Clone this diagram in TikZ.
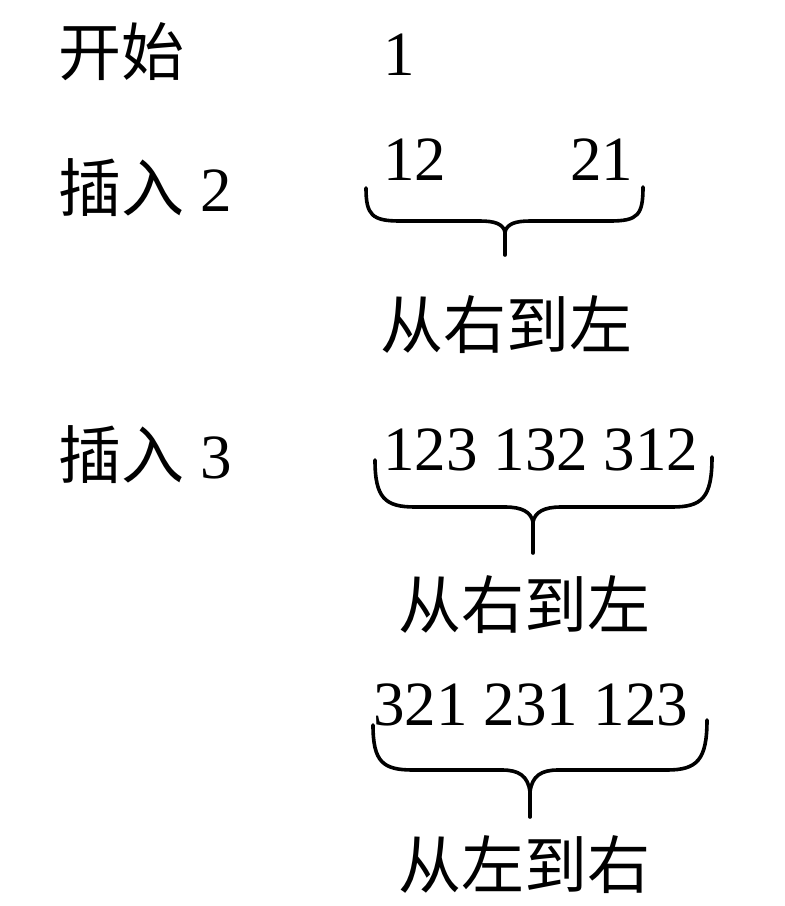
\documentclass[tikz,border=0pt]{standalone}
\usepackage{fontspec}
\setmainfont{Liberation Serif}
\newfontfamily\cjk{Noto Sans CJK SC}
\begin{document}
\begin{tikzpicture}[x=0.5pt,y=-0.5pt,
  txt/.style={anchor=west,inner sep=0pt,font=\fontsize{31.5}{36}\selectfont},
  bracepath/.style={line width=1.8pt,line cap=round,line join=round}]
\useasboundingbox (0,0) rectangle (784,906);
\node[txt] (start) at (58,52) {\cjk 开始};
\node[txt] (one) at (383,55) {1};
\node[txt] (ins2) at (58,188) {\cjk 插入\rmfamily\ 2};
\node[txt] (p12) at (383,160) {12};
\node[txt] (p21) at (570,160) {21};
\node[txt] (lab1) at (380,325) {\cjk 从右到左};
\node[txt] (ins3) at (58,455) {\cjk 插入\rmfamily\ 3};
\node[txt] (row3) at (383,450) {123 132 312};
\node[txt] (lab2) at (398,605) {\cjk 从右到左};
\node[txt] (row4) at (373,705) {321 231 123};
\node[txt] (lab3) at (398,865) {\cjk 从左到右};
% brace 1
\coordinate (b1l) at (366,188);
\coordinate (b1r) at (643,187);
\coordinate (b1m) at (505,232);
\coordinate (b1t) at (505,255);
\draw[bracepath] (b1l) .. controls (366,215) and (372,221) .. (400,221) -- (480,221) .. controls (495,221) and (503,224) .. (b1m) .. controls (507,224) and (515,221) .. (530,221) -- (610,221) .. controls (638,221) and (643,215) .. (b1r);
\draw[bracepath] (b1m) -- (b1t);
% brace 2
\coordinate (b2l) at (375,460);
\coordinate (b2r) at (712,457);
\coordinate (b2m) at (533,522);
\coordinate (b2t) at (533,553);
\draw[bracepath] (b2l) .. controls (375,498) and (385,507) .. (415,507) -- (505,507) .. controls (522,507) and (531,512) .. (b2m) .. controls (535,512) and (544,507) .. (561,507) -- (672,507) .. controls (702,507) and (712,498) .. (b2r);
\draw[bracepath] (b2m) -- (b2t);
% brace 3
\coordinate (b3l) at (373,725);
\coordinate (b3r) at (707,720);
\coordinate (b3m) at (530,792);
\coordinate (b3t) at (530,817);
\draw[bracepath] (b3l) .. controls (373,762) and (383,770) .. (413,770) -- (502,770) .. controls (519,770) and (528,776) .. (b3m) .. controls (532,776) and (541,770) .. (558,770) -- (667,770) .. controls (697,770) and (707,760) .. (b3r);
\draw[bracepath] (b3m) -- (b3t);
\end{tikzpicture}
\end{document}
